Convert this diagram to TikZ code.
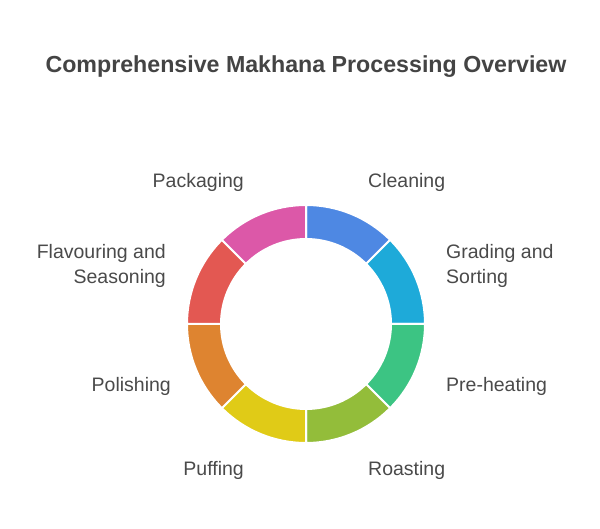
\documentclass[tikz,border=0pt]{standalone}
\usepackage{fontspec}
\setmainfont{Liberation Sans}
\definecolor{txt}{HTML}{4A4A4A}
\definecolor{ttl}{HTML}{444444}
\definecolor{cBlue}{HTML}{4E88E3}
\definecolor{cCyan}{HTML}{1EAAD9}
\definecolor{cGreen}{HTML}{3CC483}
\definecolor{cLime}{HTML}{93BD3A}
\definecolor{cYellow}{HTML}{E0CB17}
\definecolor{cOrange}{HTML}{DE8430}
\definecolor{cRed}{HTML}{E35852}
\definecolor{cPink}{HTML}{DC58A8}
\tikzset{
  lbl/.style={inner sep=0pt, text=txt, font=\fontsize{19.5}{25}\selectfont, align=#1},
  lbl/.default=center,
  seg/.style={fill=#1, draw=white, line width=2pt, line join=miter},
}
\begin{document}
\begin{tikzpicture}[x=1pt,y=1pt]
\useasboundingbox (0,0) rectangle (600,528);
\fill[white] (0,0) rectangle (600,528);
\node[inner sep=0pt, text=ttl, font=\fontsize{23.2}{28}\selectfont\bfseries] (title) at (306,461) {Comprehensive Makhana Processing Overview};
\begin{scope}[shift={(306,204)}]
  \foreach \a/\b/\c in {45/90/cBlue, 0/45/cCyan, -45/0/cGreen, -90/-45/cLime, -135/-90/cYellow, -180/-135/cOrange, 135/180/cRed, 90/135/cPink}{
    \path[seg=\c] (\a:119) arc[start angle=\a, end angle=\b, radius=119] -- (\b:85) arc[start angle=\b, end angle=\a, radius=85] -- cycle;
  }
\end{scope}
\node[lbl, anchor=east] (packaging) at (244,346) {Packaging};
\node[lbl, anchor=west] (cleaning) at (368,346) {Cleaning};
\node[lbl=right, anchor=east] (flavouring) at (166,262) {Flavouring and\\Seasoning};
\node[lbl=left, anchor=west] (grading) at (446,262) {Grading and\\Sorting};
\node[lbl, anchor=east] (polishing) at (171,142) {Polishing};
\node[lbl, anchor=west] (preheating) at (446,142) {Pre-heating};
\node[lbl, anchor=east] (puffing) at (244,58) {Puffing};
\node[lbl, anchor=west] (roasting) at (368,58) {Roasting};
\end{tikzpicture}
\end{document}
